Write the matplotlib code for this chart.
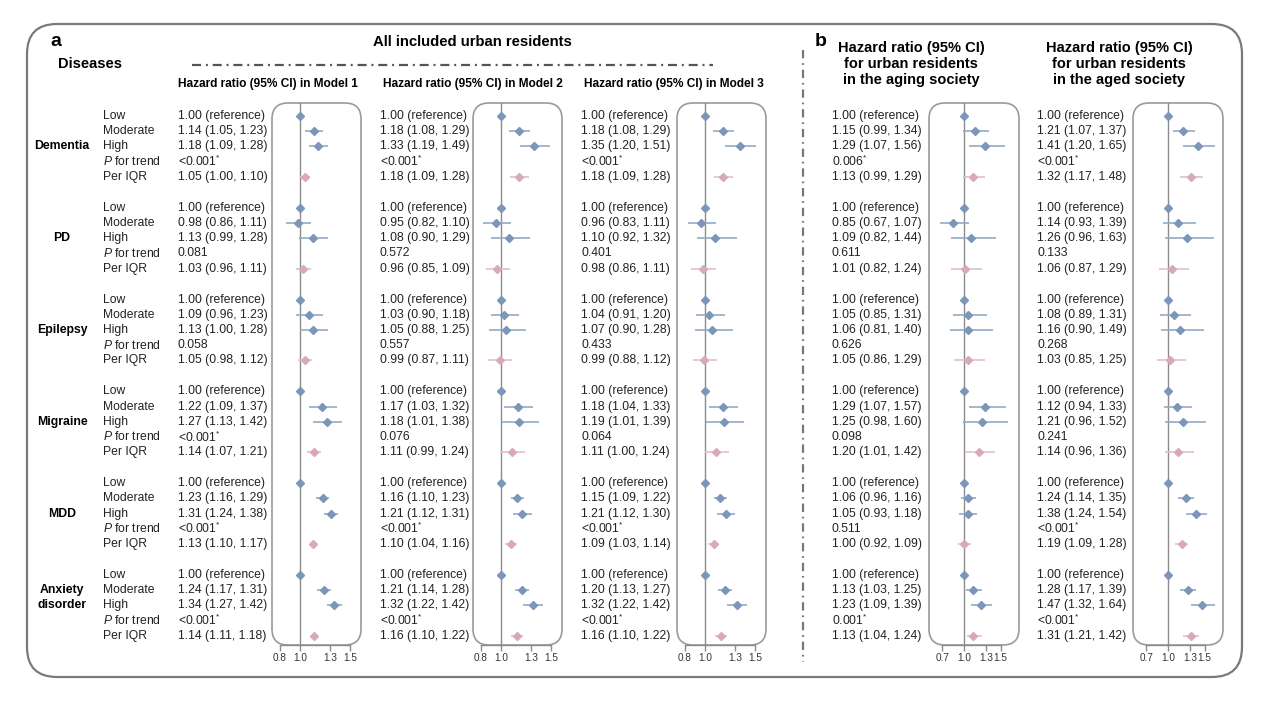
import matplotlib.pyplot as plt
from matplotlib.patches import FancyBboxPatch

plt.rcParams['font.family'] = ['Liberation Sans', 'DejaVu Sans']
plt.rcParams['mathtext.fontset'] = 'custom'
plt.rcParams['mathtext.rm'] = 'Liberation Sans'
plt.rcParams['mathtext.it'] = 'Liberation Sans:italic'
plt.rcParams['lines.scale_dashes'] = False

diseases = ['Dementia', 'PD', 'Epilepsy', 'Migraine', 'MDD', 'Anxiety\ndisorder']
levels = ['Low', 'Moderate', 'High', '$P$ for trend', 'Per IQR']

# each row: [Moderate, High, Per IQR]
m1_hr = [[1.14, 1.18, 1.05], [0.98, 1.13, 1.03], [1.09, 1.13, 1.05], [1.22, 1.27, 1.14], [1.23, 1.31, 1.13], [1.24, 1.34, 1.14]]
m1_lo = [[1.05, 1.09, 1.00], [0.86, 0.99, 0.96], [0.96, 1.00, 0.98], [1.09, 1.13, 1.07], [1.16, 1.24, 1.10], [1.17, 1.27, 1.11]]
m1_hi = [[1.23, 1.28, 1.10], [1.11, 1.28, 1.11], [1.23, 1.28, 1.12], [1.37, 1.42, 1.21], [1.29, 1.38, 1.17], [1.31, 1.42, 1.18]]
m1_p = ['<0.001*', '0.081', '0.058', '<0.001*', '<0.001*', '<0.001*']

m2_hr = [[1.18, 1.33, 1.18], [0.95, 1.08, 0.96], [1.03, 1.05, 0.99], [1.17, 1.18, 1.11], [1.16, 1.21, 1.10], [1.21, 1.32, 1.16]]
m2_lo = [[1.08, 1.19, 1.09], [0.82, 0.90, 0.85], [0.90, 0.88, 0.87], [1.03, 1.01, 0.99], [1.10, 1.12, 1.04], [1.14, 1.22, 1.10]]
m2_hi = [[1.29, 1.49, 1.28], [1.10, 1.29, 1.09], [1.18, 1.25, 1.11], [1.32, 1.38, 1.24], [1.23, 1.31, 1.16], [1.28, 1.42, 1.22]]
m2_p = ['<0.001*', '0.572', '0.557', '0.076', '<0.001*', '<0.001*']

m3_hr = [[1.18, 1.35, 1.18], [0.96, 1.10, 0.98], [1.04, 1.07, 0.99], [1.18, 1.19, 1.11], [1.15, 1.21, 1.09], [1.20, 1.32, 1.16]]
m3_lo = [[1.08, 1.20, 1.09], [0.83, 0.92, 0.86], [0.91, 0.90, 0.88], [1.04, 1.01, 1.00], [1.09, 1.12, 1.03], [1.13, 1.22, 1.10]]
m3_hi = [[1.29, 1.51, 1.28], [1.11, 1.32, 1.11], [1.20, 1.28, 1.12], [1.33, 1.39, 1.24], [1.22, 1.30, 1.14], [1.27, 1.42, 1.22]]
m3_p = ['<0.001*', '0.401', '0.433', '0.064', '<0.001*', '<0.001*']

aging_hr = [[1.15, 1.29, 1.13], [0.85, 1.09, 1.01], [1.05, 1.06, 1.05], [1.29, 1.25, 1.20], [1.06, 1.05, 1.00], [1.13, 1.23, 1.13]]
aging_lo = [[0.99, 1.07, 0.99], [0.67, 0.82, 0.82], [0.85, 0.81, 0.86], [1.07, 0.98, 1.01], [0.96, 0.93, 0.92], [1.03, 1.09, 1.04]]
aging_hi = [[1.34, 1.56, 1.29], [1.07, 1.44, 1.24], [1.31, 1.40, 1.29], [1.57, 1.60, 1.42], [1.16, 1.18, 1.09], [1.25, 1.39, 1.24]]
aging_p = ['0.006*', '0.611', '0.626', '0.098', '0.511', '0.001*']

aged_hr = [[1.21, 1.41, 1.32], [1.14, 1.26, 1.06], [1.08, 1.16, 1.03], [1.12, 1.21, 1.14], [1.24, 1.38, 1.19], [1.28, 1.47, 1.31]]
aged_lo = [[1.07, 1.20, 1.17], [0.93, 0.96, 0.87], [0.89, 0.90, 0.85], [0.94, 0.96, 0.96], [1.14, 1.24, 1.09], [1.17, 1.32, 1.21]]
aged_hi = [[1.37, 1.65, 1.48], [1.39, 1.63, 1.29], [1.31, 1.49, 1.25], [1.33, 1.52, 1.36], [1.35, 1.54, 1.28], [1.39, 1.64, 1.42]]
aged_p = ['<0.001*', '0.133', '0.268', '0.241', '<0.001*', '<0.001*']

ticks_a = [0.8, 1.0, 1.3, 1.5]
ticks_b = [0.7, 1.0, 1.3, 1.5]

W, H = 1268, 705
BLUE = '#7b96b8'
BLUE_L = '#92aac7'
PINK = '#d8a9ba'
PINK_L = '#e2bfcc'
GRAY = '#8c8c8c'
FS = 8.7

fig = plt.figure(figsize=(W / 100, H / 100), dpi=100)
bg = fig.add_axes([0, 0, 1, 1])
bg.set_xlim(0, W)
bg.set_ylim(H, 0)
bg.axis('off')

# layout in pixels
box_top, box_bot = 103, 645
row0, group_step, row_step = 116, 91.8, 15.2


def row_y(g, k):
    return row0 + g * group_step + k * row_step


def fmt(h, l, u):
    return f'{h:.2f} ({l:.2f}, {u:.2f})'


def draw_column(text_x, line_x, left_off, right_off, ppu, ticks, hr, lo, hi, pv):
    x0, x1 = line_x - left_off, line_x + right_off
    bg.add_patch(FancyBboxPatch((x0, box_top), x1 - x0, box_bot - box_top,
                                boxstyle='round,pad=0,rounding_size=16',
                                fc='none', ec='#9a9a9a', lw=1.2))
    ax = fig.add_axes([x0 / W, 1 - box_bot / H, (x1 - x0) / W, (box_bot - box_top) / H])
    ax.set_facecolor('none')
    ax.set_xlim(1 - left_off / ppu, 1 + right_off / ppu)
    ax.set_ylim(box_bot, box_top)
    for s in ['left', 'right', 'top']:
        ax.spines[s].set_visible(False)
    ax.spines['bottom'].set_bounds(ticks[0], ticks[-1])
    ax.spines['bottom'].set_color(GRAY)
    ax.spines['bottom'].set_linewidth(1.0)
    ax.set_yticks([])
    ax.set_xticks(ticks)
    ax.set_xticklabels([f'{t:.1f}' for t in ticks])
    ax.tick_params(axis='x', labelsize=7.2, length=4, width=1.0, color=GRAY, pad=2,
                   labelcolor='#333333')
    ax.axvline(1.0, color=GRAY, lw=1.0, zorder=1)

    for g in range(len(diseases)):
        ys = [row_y(g, k) for k in range(5)]
        p = pv[g].replace('*', '$^{*}$')
        texts = ['1.00 (reference)', fmt(hr[g][0], lo[g][0], hi[g][0]),
                 fmt(hr[g][1], lo[g][1], hi[g][1]), p, fmt(hr[g][2], lo[g][2], hi[g][2])]
        for y, t in zip(ys, texts):
            bg.text(text_x, y, t, fontsize=FS, ha='left', va='center', color='#222222')
        ax.plot(1.0, ys[0], 'D', color=BLUE, ms=4.3, zorder=3)
        for j, k in enumerate([1, 2, 4]):
            c, cl = (BLUE, BLUE_L) if k != 4 else (PINK, PINK_L)
            ax.hlines(ys[k], lo[g][j], hi[g][j], color=cl, lw=1.2, zorder=2)
            ax.plot(hr[g][j], ys[k], 'D', color=c, ms=4.3, zorder=3)


# outer frame
bg.add_patch(FancyBboxPatch((27, 24), 1215, 653, boxstyle='round,pad=0,rounding_size=30',
                            fc='none', ec='#7a7a7a', lw=1.6))

# panel a headers
bg.text(50, 41, 'a', fontsize=14, fontweight='bold', ha='left', va='center')
bg.text(58, 64, 'Diseases', fontsize=10.5, fontweight='bold', ha='left', va='center')
bg.text(472, 42, 'All included urban residents', fontsize=10.7, fontweight='bold',
        ha='center', va='center')
bg.plot([192, 713], [65, 65], color='#555555', lw=1.6, dashes=[6.5, 3.5, 1.4, 3.5])
for x, m in zip([178, 383, 584], ['1', '2', '3']):
    bg.text(x, 84, f'Hazard ratio (95% CI) in Model {m}', fontsize=8.6,
            fontweight='bold', ha='left', va='center')

# disease and level labels
for g, d in enumerate(diseases):
    yk = 2 if '\n' not in d else 1.5
    bg.text(62, row_y(g, yk), d, fontsize=8.8, fontweight='bold', ha='center', va='center',
            linespacing=1.3)
    for k, lv in enumerate(levels):
        bg.text(103, row_y(g, k), lv, fontsize=FS, ha='left', va='center', color='#222222')

# panel b headers
bg.plot([803, 803], [50, 662], color='#777777', lw=1.6, dashes=[6, 3.5, 1.2, 3.5])
bg.text(815, 42, 'b', fontsize=14, fontweight='bold', ha='left', va='center')
for cx, last in zip([911, 1119], ['in the aging society', 'in the aged society']):
    for y, t in zip([48, 64, 80], ['Hazard ratio (95% CI)', 'for urban residents', last]):
        bg.text(cx, y, t, fontsize=10.5, fontweight='bold', ha='center', va='center')

draw_column(178, 300, 28, 61, 100, ticks_a, m1_hr, m1_lo, m1_hi, m1_p)
draw_column(380, 501, 28, 61, 100, ticks_a, m2_hr, m2_lo, m2_hi, m2_p)
draw_column(581, 705, 28, 61, 100, ticks_a, m3_hr, m3_lo, m3_hi, m3_p)
draw_column(832, 964, 35, 55, 73, ticks_b, aging_hr, aging_lo, aging_hi, aging_p)
draw_column(1037, 1168, 35, 55, 73, ticks_b, aged_hr, aged_lo, aged_hi, aged_p)

fig.savefig('out.png', dpi=100)
